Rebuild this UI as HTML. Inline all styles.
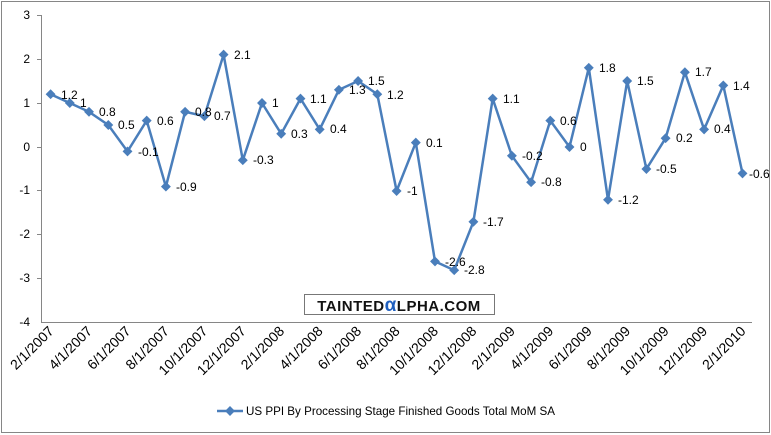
<!DOCTYPE html><html><head><style>body{margin:0;background:#fff}svg{display:block;font-family:"Liberation Sans",Arial,sans-serif}</style></head><body>
<svg width="771" height="435" xmlns="http://www.w3.org/2000/svg">
<defs><rect id="dm" x="-3.5" y="-3.5" width="7" height="7" transform="rotate(45)" fill="#4a7ebb"/></defs>
<rect x="1.5" y="1.5" width="768" height="431" fill="#fff" stroke="#868686"/>
<line x1="41.5" y1="15" x2="41.5" y2="322" stroke="#868686"/>
<line x1="41" y1="322.5" x2="752" y2="322.5" stroke="#868686"/>
<g stroke="#868686"><line x1="37" x2="41" y1="15.5" y2="15.5"/><line x1="37" x2="41" y1="59.5" y2="59.5"/><line x1="37" x2="41" y1="103.5" y2="103.5"/><line x1="37" x2="41" y1="147.5" y2="147.5"/><line x1="37" x2="41" y1="190.5" y2="190.5"/><line x1="37" x2="41" y1="234.5" y2="234.5"/><line x1="37" x2="41" y1="278.5" y2="278.5"/></g>
<g font-size="12" text-anchor="end" fill="#000"><text x="30" y="19">3</text><text x="30" y="63">2</text><text x="30" y="107">1</text><text x="30" y="151">0</text><text x="30" y="194">-1</text><text x="30" y="238">-2</text><text x="30" y="282">-3</text><text x="30" y="326">-4</text></g>
<rect x="304.5" y="294.5" width="190" height="20" fill="#fff" stroke="#777"/>
<text x="399" y="311" text-anchor="middle" font-size="15" font-weight="bold" fill="#111" letter-spacing="0.5">TAINTED<tspan fill="#1f5fbf" font-size="19">α</tspan>LPHA.COM</text>
<polyline fill="none" stroke="#4a7ebb" stroke-width="2.5" points="50.6,94.2 69.8,103 89,111.8 108.3,125 127.5,151.4 146.7,120.6 165.9,186.6 185.1,111.8 204.4,116.2 223.6,54.6 242.8,160.2 262,103 281.2,133.8 300.5,98.6 319.7,129.4 338.9,89.8 358.1,81 377.3,94.2 396.6,191 415.8,142.6 435,261.4 454.2,270.2 473.4,221.8 492.7,98.6 511.9,155.8 531.1,182.2 550.3,120.6 569.5,147 588.8,67.8 608,199.8 627.2,81 646.4,169 665.6,138.2 684.9,72.2 704.1,129.4 723.3,85.4 742.5,173.4"/>
<use href="#dm" x="50.6" y="94.2"/><use href="#dm" x="69.8" y="103"/><use href="#dm" x="89" y="111.8"/><use href="#dm" x="108.3" y="125"/><use href="#dm" x="127.5" y="151.4"/><use href="#dm" x="146.7" y="120.6"/><use href="#dm" x="165.9" y="186.6"/><use href="#dm" x="185.1" y="111.8"/><use href="#dm" x="204.4" y="116.2"/><use href="#dm" x="223.6" y="54.6"/><use href="#dm" x="242.8" y="160.2"/><use href="#dm" x="262" y="103"/><use href="#dm" x="281.2" y="133.8"/><use href="#dm" x="300.5" y="98.6"/><use href="#dm" x="319.7" y="129.4"/><use href="#dm" x="338.9" y="89.8"/><use href="#dm" x="358.1" y="81"/><use href="#dm" x="377.3" y="94.2"/><use href="#dm" x="396.6" y="191"/><use href="#dm" x="415.8" y="142.6"/><use href="#dm" x="435" y="261.4"/><use href="#dm" x="454.2" y="270.2"/><use href="#dm" x="473.4" y="221.8"/><use href="#dm" x="492.7" y="98.6"/><use href="#dm" x="511.9" y="155.8"/><use href="#dm" x="531.1" y="182.2"/><use href="#dm" x="550.3" y="120.6"/><use href="#dm" x="569.5" y="147"/><use href="#dm" x="588.8" y="67.8"/><use href="#dm" x="608" y="199.8"/><use href="#dm" x="627.2" y="81"/><use href="#dm" x="646.4" y="169"/><use href="#dm" x="665.6" y="138.2"/><use href="#dm" x="684.9" y="72.2"/><use href="#dm" x="704.1" y="129.4"/><use href="#dm" x="723.3" y="85.4"/><use href="#dm" x="742.5" y="173.4"/>
<g font-size="12" fill="#000">
<text x="61" y="99">1.2</text><text x="80" y="107">1</text><text x="99" y="116">0.8</text><text x="118" y="129">0.5</text><text x="138" y="156">-0.1</text><text x="157" y="125">0.6</text><text x="176" y="191">-0.9</text><text x="195" y="116">0.8</text><text x="214" y="120">0.7</text><text x="234" y="59">2.1</text><text x="253" y="164">-0.3</text><text x="272" y="107">1</text><text x="291" y="138">0.3</text><text x="310" y="103">1.1</text><text x="330" y="133">0.4</text><text x="349" y="94">1.3</text><text x="368" y="85">1.5</text><text x="387" y="99">1.2</text><text x="407" y="195">-1</text><text x="426" y="147">0.1</text><text x="445" y="266">-2.6</text><text x="464" y="274">-2.8</text><text x="483" y="226">-1.7</text><text x="503" y="103">1.1</text><text x="522" y="160">-0.2</text><text x="541" y="186">-0.8</text><text x="560" y="125">0.6</text><text x="580" y="151">0</text><text x="599" y="72">1.8</text><text x="618" y="204">-1.2</text><text x="637" y="85">1.5</text><text x="656" y="173">-0.5</text><text x="676" y="142">0.2</text><text x="695" y="76">1.7</text><text x="714" y="133">0.4</text><text x="733" y="90">1.4</text><text x="749" y="178">-0.6</text>
</g>
<g font-size="14" fill="#000" text-anchor="end">
<text x="54.6" y="332" transform="rotate(-45 54.6 332)">2/1/2007</text>
<text x="93" y="332" transform="rotate(-45 93 332)">4/1/2007</text>
<text x="131.5" y="332" transform="rotate(-45 131.5 332)">6/1/2007</text>
<text x="169.9" y="332" transform="rotate(-45 169.9 332)">8/1/2007</text>
<text x="208.4" y="332" transform="rotate(-45 208.4 332)">10/1/2007</text>
<text x="246.8" y="332" transform="rotate(-45 246.8 332)">12/1/2007</text>
<text x="285.2" y="332" transform="rotate(-45 285.2 332)">2/1/2008</text>
<text x="323.7" y="332" transform="rotate(-45 323.7 332)">4/1/2008</text>
<text x="362.1" y="332" transform="rotate(-45 362.1 332)">6/1/2008</text>
<text x="400.6" y="332" transform="rotate(-45 400.6 332)">8/1/2008</text>
<text x="439" y="332" transform="rotate(-45 439 332)">10/1/2008</text>
<text x="477.4" y="332" transform="rotate(-45 477.4 332)">12/1/2008</text>
<text x="515.9" y="332" transform="rotate(-45 515.9 332)">2/1/2009</text>
<text x="554.3" y="332" transform="rotate(-45 554.3 332)">4/1/2009</text>
<text x="592.8" y="332" transform="rotate(-45 592.8 332)">6/1/2009</text>
<text x="631.2" y="332" transform="rotate(-45 631.2 332)">8/1/2009</text>
<text x="669.6" y="332" transform="rotate(-45 669.6 332)">10/1/2009</text>
<text x="708.1" y="332" transform="rotate(-45 708.1 332)">12/1/2009</text>
<text x="746.5" y="332" transform="rotate(-45 746.5 332)">2/1/2010</text>
</g>
<line x1="217" y1="411" x2="243" y2="411" stroke="#4a7ebb" stroke-width="2.5"/>
<use href="#dm" x="230" y="411"/>
<text x="246" y="415" font-size="12" fill="#000" textLength="309" lengthAdjust="spacingAndGlyphs">US PPI By Processing Stage Finished Goods Total MoM SA</text>
</svg></body></html>
